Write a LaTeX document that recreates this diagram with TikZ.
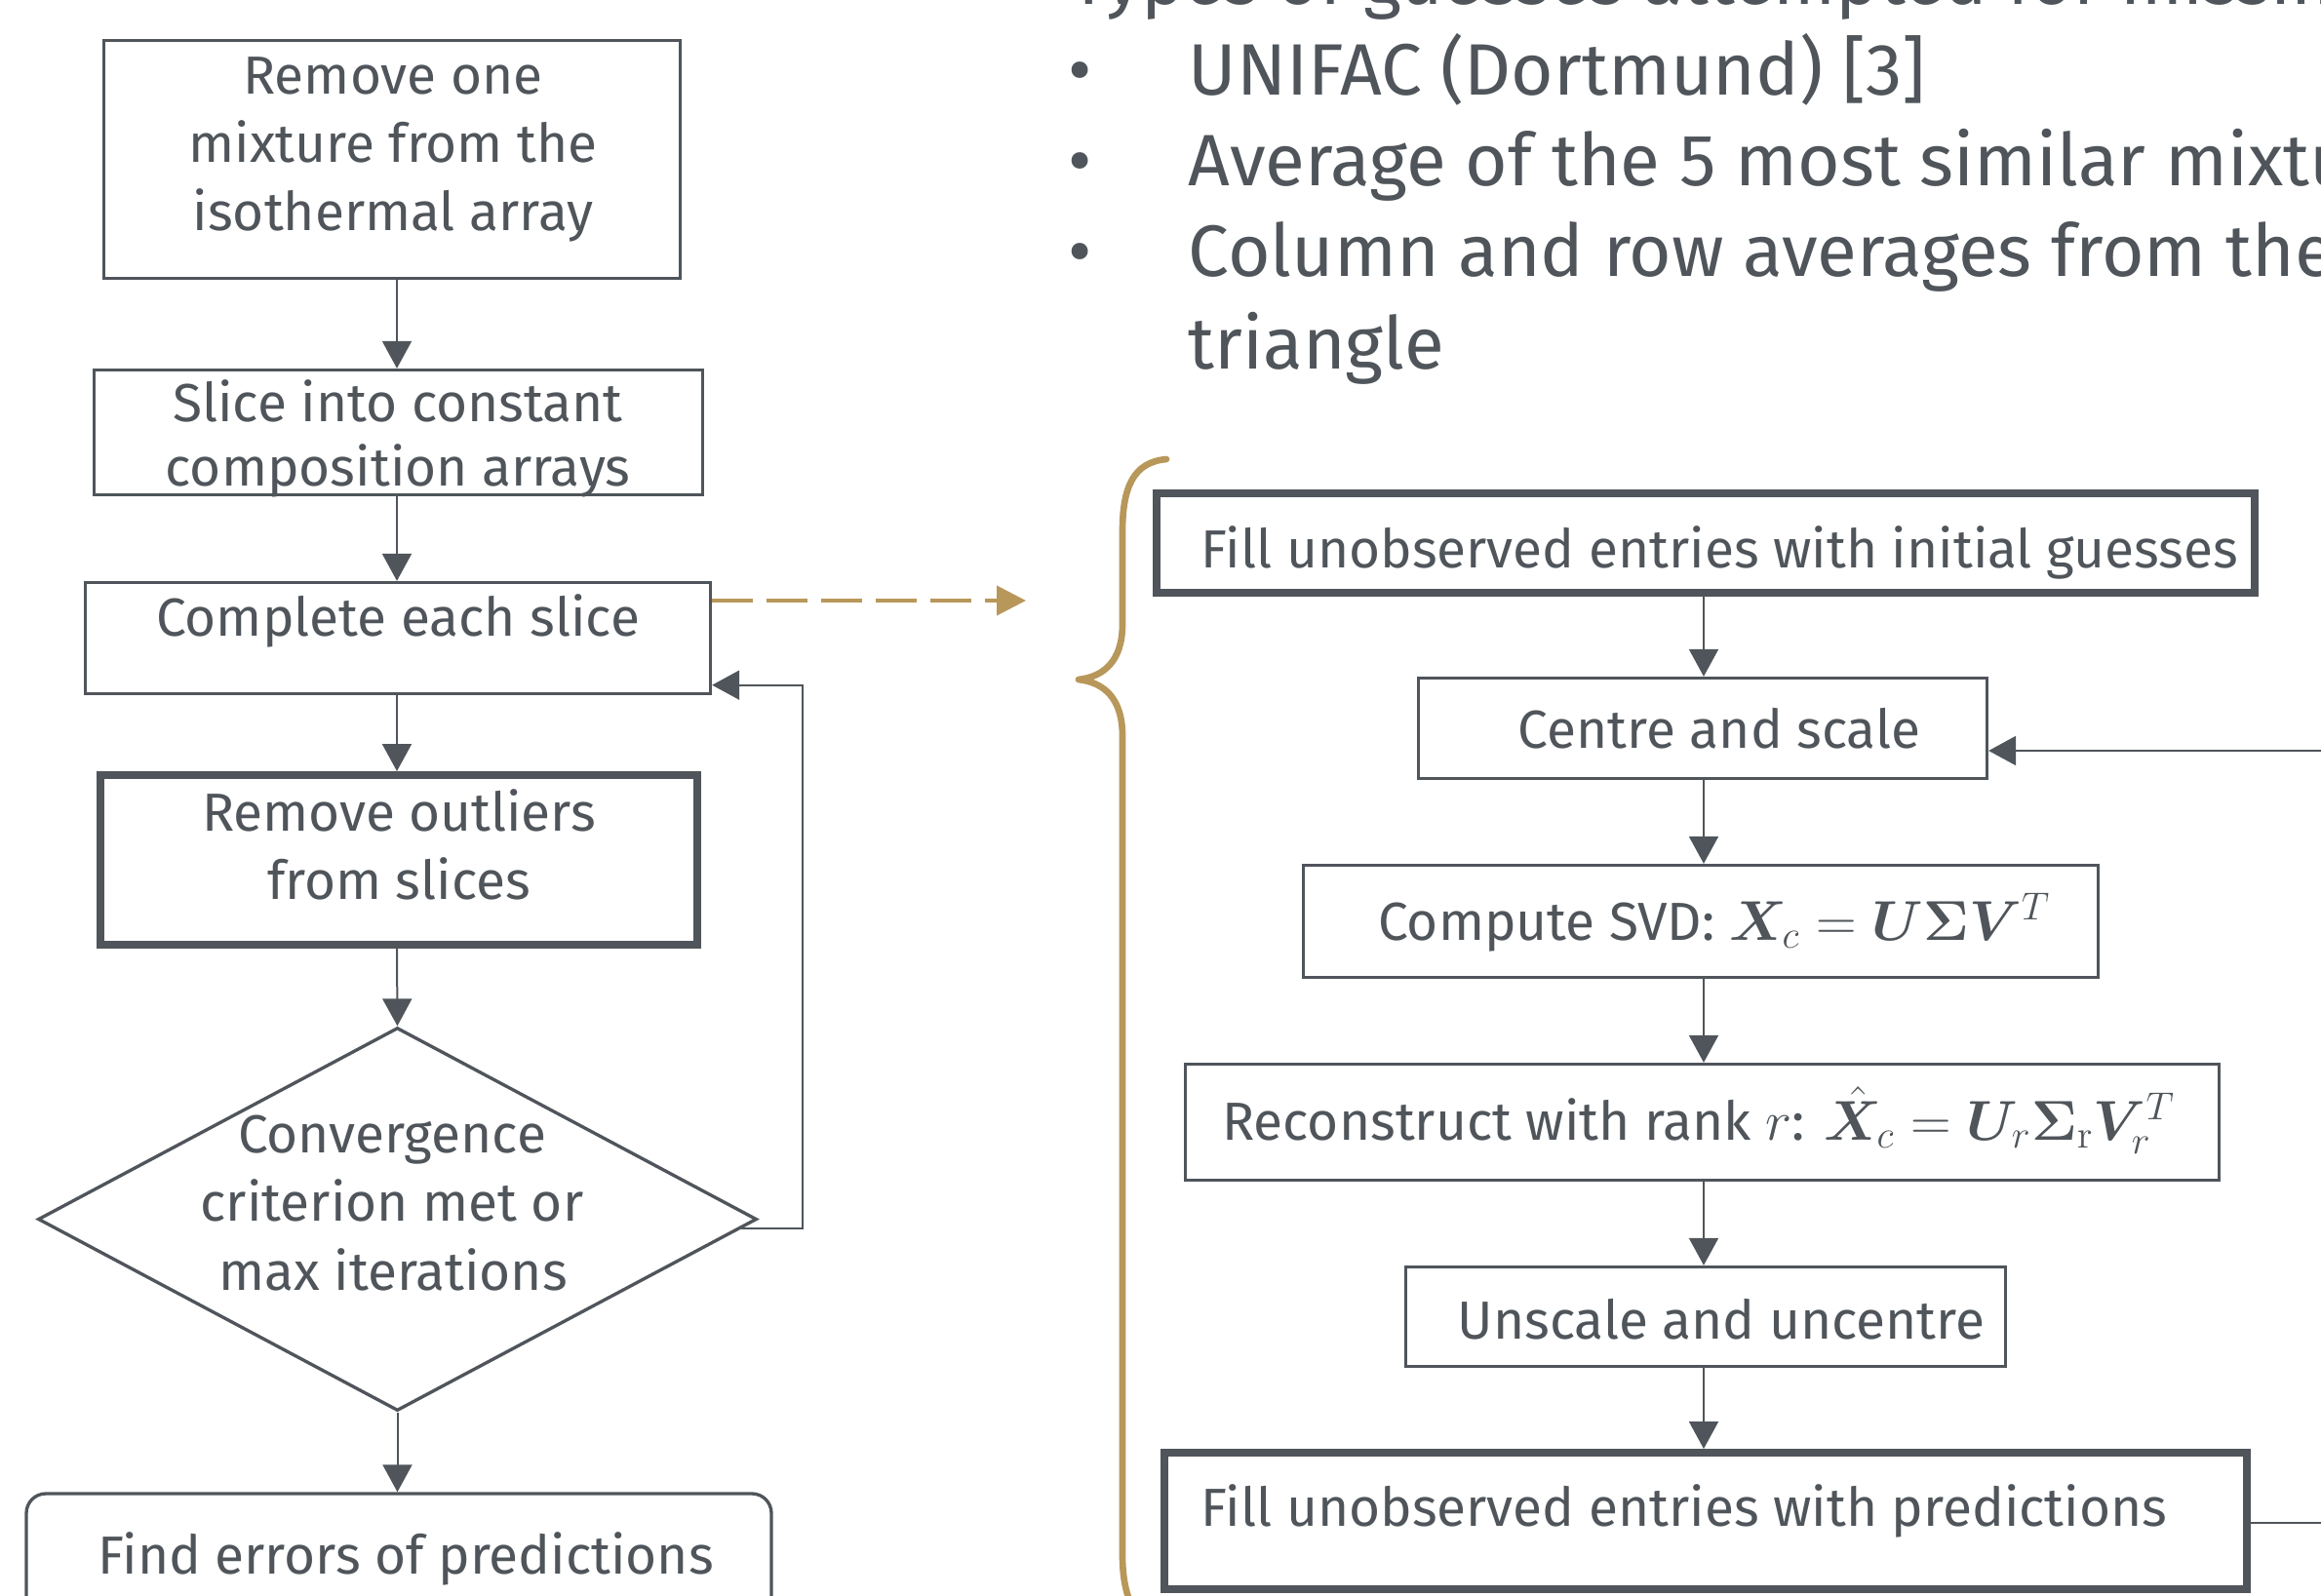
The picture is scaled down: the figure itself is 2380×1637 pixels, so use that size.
\documentclass[tikz,border=0pt]{standalone}
\usepackage{amsmath,bm}
\usepackage[no-math]{fontspec}
\setmainfont{Fira Sans}
\usetikzlibrary{arrows.meta,shapes.geometric,calc}
\definecolor{ink}{HTML}{4F555A}
\definecolor{gold}{HTML}{B8975A}
\begin{document}
\begin{tikzpicture}[x=0.3pt,y=-0.3pt,
  bx/.style 2 args={draw=ink,line width=1pt,minimum width=#1*0.3pt,minimum height=#2*0.3pt,inner sep=0pt},
  thick box/.style={line width=2.4pt},
  txt/.style={text=ink,font=\fontsize{16.5}{20}\selectfont,anchor=base,inner sep=0pt},
  btxt/.style={text=ink,font=\fontsize{22.4}{27}\selectfont,anchor=base west,inner sep=0pt},
  arr/.style={draw=ink,line width=0.6pt,-{Triangle[length=8.4pt,width=9pt]}},
  ln/.style={draw=ink,line width=0.6pt},
  brace/.style={draw=gold,line width=2pt,line join=round,line cap=round},
  goldarr/.style={draw=gold,line width=1.2pt,dash pattern=on 12.6pt off 4.2pt,-{Triangle[length=9pt,width=9pt]}}]
\useasboundingbox (0,0) rectangle (2380,1637);
\clip (0,0) rectangle (2380,1637);
\fill[white] (0,0) rectangle (2380,1637);

% ---------- top bullet text ----------
\node[btxt] (head) at (1097,4) {Types of guesses attempted for missing};
\node[btxt,anchor=base] (bu1) at (1108,97) {•};
\node[btxt] (g1) at (1218,97) {UNIFAC (Dortmund) [3]};
\node[btxt,anchor=base] (bu2) at (1108,190) {•};
\node[btxt] (g2) at (1218,190) {Average of the 5 most similar mixtures};
\node[btxt,anchor=base] (bu3) at (1108,283) {•};
\node[btxt] (g3) at (1218,283) {Column and row averages from the};
\node[btxt] (g3b) at (1218,378) {triangle};

% ---------- left column ----------
\coordinate (colL) at (407,0);
\node[bx={591}{244}] (b1) at (402,163.5) {};
\node[txt] (b1a) at (403,96) {Remove one};
\node[txt] (b1b) at (403,166) {mixture from the};
\node[txt] (b1c) at (403,236) {isothermal array};

\node[bx={624}{128}] (b2) at (408.5,443.5) {};
\node[txt] (b2a) at (408,432) {Slice into constant};
\node[txt] (b2b) at (408,498) {composition arrays};

\node[bx={641}{114}] (b3) at (408,654.5) {};
\node[txt] (b3a) at (408,652) {Complete each slice};

\node[bx={612}{174},thick box] (b4) at (409,882) {};
\node[txt] (b4a) at (409,852) {Remove outliers};
\node[txt] (b4b) at (409,922) {from slices};

\node[draw=ink,line width=1pt,diamond,minimum width=737*0.3pt,minimum height=393*0.3pt,inner sep=0pt] (dia) at (407.5,1250.5) {};
\node[txt] (d1) at (402,1182) {Convergence};
\node[txt] (d2) at (402,1252) {criterion met or};
\node[txt] (d3) at (403,1323) {max iterations};

\node[bx={764}{240},rounded corners=6pt] (fe) at (409,1652) {};
\node[txt] (fea) at (416,1614) {Find errors of predictions};

\draw[arr] (b1.south -| colL) -- (b2.north -| colL);
\draw[arr] (b2.south -| colL) -- (b3.north -| colL);
\draw[arr] (b3.south -| colL) -- (b4.north -| colL);
\draw[arr] (b4.south -| colL) -- (dia.north);
\draw[arr] (dia.south) -- (fe.north -| dia.south);
\coordinate (b3in) at ($(b3.south east)+(0,-10.5)$);
\coordinate (dout) at ($(dia.east)+(-18,9)$);
\draw[arr] (dout) -- ++(63,0) |- (b3in);

% dashed link
\coordinate (d0) at (0,616);
\coordinate (dashend) at (1052,616);
\draw[goldarr] (b3.east |- d0) -- (dashend);

% brace
\draw[brace] (1196,471) .. controls (1162,474) and (1151,500) .. (1151,545)
  -- (1151,640) .. controls (1151,678) and (1132,694) .. (1106,697)
  .. controls (1132,700) and (1151,716) .. (1151,755)
  -- (1151,1595) .. controls (1151,1640) and (1165,1668) .. (1196,1675);

% ---------- right column ----------
\coordinate (colR) at (1747,0);
\node[bx={1126}{102},thick box] (r1) at (1749,557) {};
\node[txt,anchor=base west] (r1a) at (1231,582) {Fill unobserved entries with initial guesses};

\node[bx={583}{103}] (r2) at (1746,747) {};
\node[txt] (r2a) at (1763,767) {Centre and scale};

\node[bx={815}{115}] (r3) at (1744,945) {};
\node[txt] (r3a) at (1758,964) {Compute SVD: $\boldsymbol{X}_c=\boldsymbol{U\Sigma V}^T$};

\node[bx={1060}{119}] (r4) at (1745.5,1151) {};
\node[txt] (r4a) at (1742,1169) {Reconstruct with rank $r$: $\hat{\boldsymbol{X}}_c=\boldsymbol{U}_r\boldsymbol{\Sigma}_{\mathrm{r}}\boldsymbol{V}_r^T$};

\node[bx={615}{102}] (r5) at (1749,1350.5) {};
\node[txt] (r5a) at (1765,1373) {Unscale and uncentre};

\node[bx={1110}{140},thick box] (r6) at (1749,1560) {};
\node[txt,anchor=base west] (r6a) at (1231,1565) {Fill unobserved entries with predictions};

\draw[arr] (r1.south -| colR) -- (r2.north -| colR);
\draw[arr] (r2.south -| colR) -- (r3.north -| colR);
\draw[arr] (r3.south -| colR) -- (r4.north -| colR);
\draw[arr] (r4.south -| colR) -- (r5.north -| colR);
\draw[arr] (r5.south -| colR) -- (r6.north -| colR);

\coordinate (loopin) at (2400,770);
\draw[arr] (loopin) -- (r2.east |- loopin);
\coordinate (loopout) at (2400,1562);
\draw[ln] (r6.east |- loopout) -- (loopout);
\end{tikzpicture}
\end{document}
